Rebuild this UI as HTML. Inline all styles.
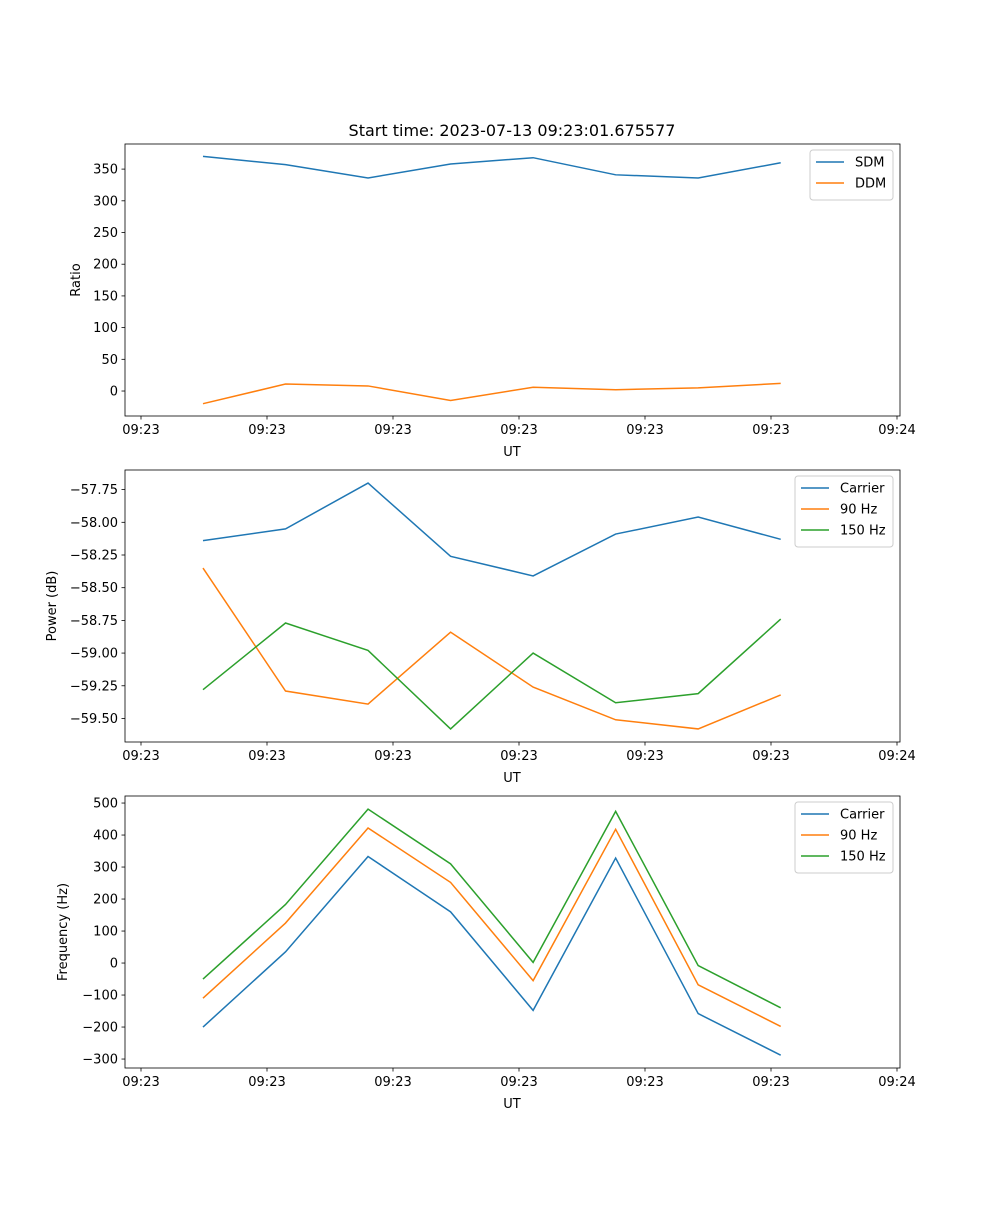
<!DOCTYPE html>
<html><head><meta charset="utf-8"><style>
body{margin:0;background:#fff}
svg text{font-family:"DejaVu Sans","Liberation Sans",sans-serif;fill:#000}
</style></head><body>
<svg id="fig" width="1000" height="1200" xmlns="http://www.w3.org/2000/svg">
<rect width="1000" height="1200" fill="#fff"/>
<text x="512" y="136" font-size="16" text-anchor="middle">Start time: 2023-07-13 09:23:01.675577</text>
</svg>
<script>
const sampleTimes=[0.492,1.147,1.802,2.457,3.112,3.767,4.422,5.077];
const xTickTimes=[0,1,2,3,4,5,6];
const xTickLabels=["09:23","09:23","09:23","09:23","09:23","09:23","09:24"];
const sdm=[370,357,336,358,368,341,336,360];
const ddm=[-20,11,8,-15,6,2,5,12];
const pwrCarrier=[-58.14,-58.05,-57.70,-58.26,-58.41,-58.09,-57.96,-58.13];
const pwr90=[-58.35,-59.29,-59.39,-58.84,-59.26,-59.51,-59.58,-59.32];
const pwr150=[-59.28,-58.77,-58.98,-59.58,-59.00,-59.38,-59.31,-58.74];
const frqCarrier=[-200,35,333,160,-148,328,-158,-288];
const frq90=[-110,125,422,252,-55,418,-68,-198];
const frq150=[-50,183,481,310,2,474,-8,-140];
const ticks1=[0,50,100,150,200,250,300,350];
const ticks2=[-59.5,-59.25,-59.0,-58.75,-58.5,-58.25,-58.0,-57.75];
const ticks3=[-300,-200,-100,0,100,200,300,400,500];
const C=["#1f77b4","#ff7f0e","#2ca02c"];
const NS="http://www.w3.org/2000/svg";
const svg=document.getElementById("fig");
const L=125,R=900;
const xs=t=>141+t*126;
function mk(tag,attrs,parent){const e=document.createElementNS(NS,tag);for(const k in attrs)e.setAttribute(k,attrs[k]);(parent||svg).appendChild(e);return e;}
function panel(id,top,bot,ymin,ymax,ticks,fmt,ylabel,series,names,legW){
  const g=mk("g",{});
  
  
  const ys=v=>bot-(v-ymin)/(ymax-ymin)*(bot-top);
  series.forEach((s,i)=>{
    const p=mk("polyline",{points:s.map((v,j)=>xs(sampleTimes[j])+","+ys(v)).join(" "),fill:"none",stroke:C[i],"stroke-width":1.5},g);
    
    
  });
  mk("rect",{x:L,y:top,width:R-L,height:bot-top,fill:"none",stroke:"#000","stroke-width":0.8},g);
  ticks.forEach(v=>{const y=ys(v);mk("line",{x1:L-3.5,x2:L,y1:y,y2:y,stroke:"#000","stroke-width":0.8},g);
    const t=mk("text",{x:L-7,y:y+4.5,"font-size":13,"text-anchor":"end"},g);t.textContent=fmt(v);
    
    });
  xTickTimes.forEach((tt,i)=>{const x=xs(tt);mk("line",{x1:x,x2:x,y1:bot,y2:bot+3.5,stroke:"#000","stroke-width":0.8},g);
    const t=mk("text",{x:x,y:bot+18,"font-size":13,"text-anchor":"middle"},g);t.textContent=xTickLabels[i];
    
    });
  const xl=mk("text",{x:512,y:bot+40,"font-size":13,"text-anchor":"middle"},g);xl.textContent="UT";
  
  
  const yl=mk("text",{transform:`translate(${id==="ratio"?80:id==="power"?56:67},${(top+bot)/2}) rotate(-90)`,"font-size":13,"text-anchor":"middle"},g);yl.textContent=ylabel;
  
  
  const lx=893-legW,ly=top+6,lh=8+names.length*21;
  const lg=mk("g",{},g);
  
  
  mk("rect",{x:lx,y:ly,width:legW,height:lh,rx:3,fill:"#fff","fill-opacity":0.8,stroke:"#ccc"},lg);
  names.forEach((n,i)=>{const yy=ly+12+i*21;
    mk("line",{x1:lx+6,x2:lx+34,y1:yy,y2:yy,stroke:C[i],"stroke-width":1.5},lg);
    const t=mk("text",{x:lx+45,y:yy+4.5,"font-size":13},lg);t.textContent=n;
    
    });
}
panel("ratio",144,416,-39.4,389.6,ticks1,v=>v.toString(),"Ratio",[sdm,ddm],["SDM","DDM"],83);
panel("power",470,742,-59.68,-57.60,ticks2,v=>"\u2212"+Math.abs(v).toFixed(2),"Power (dB)",[pwrCarrier,pwr90,pwr150],["Carrier","90 Hz","150 Hz"],98);
panel("freq",796,1068,-328,522,ticks3,v=>v<0?"\u2212"+Math.abs(v):v.toString(),"Frequency (Hz)",[frqCarrier,frq90,frq150],["Carrier","90 Hz","150 Hz"],98);
</script>
</body></html>
